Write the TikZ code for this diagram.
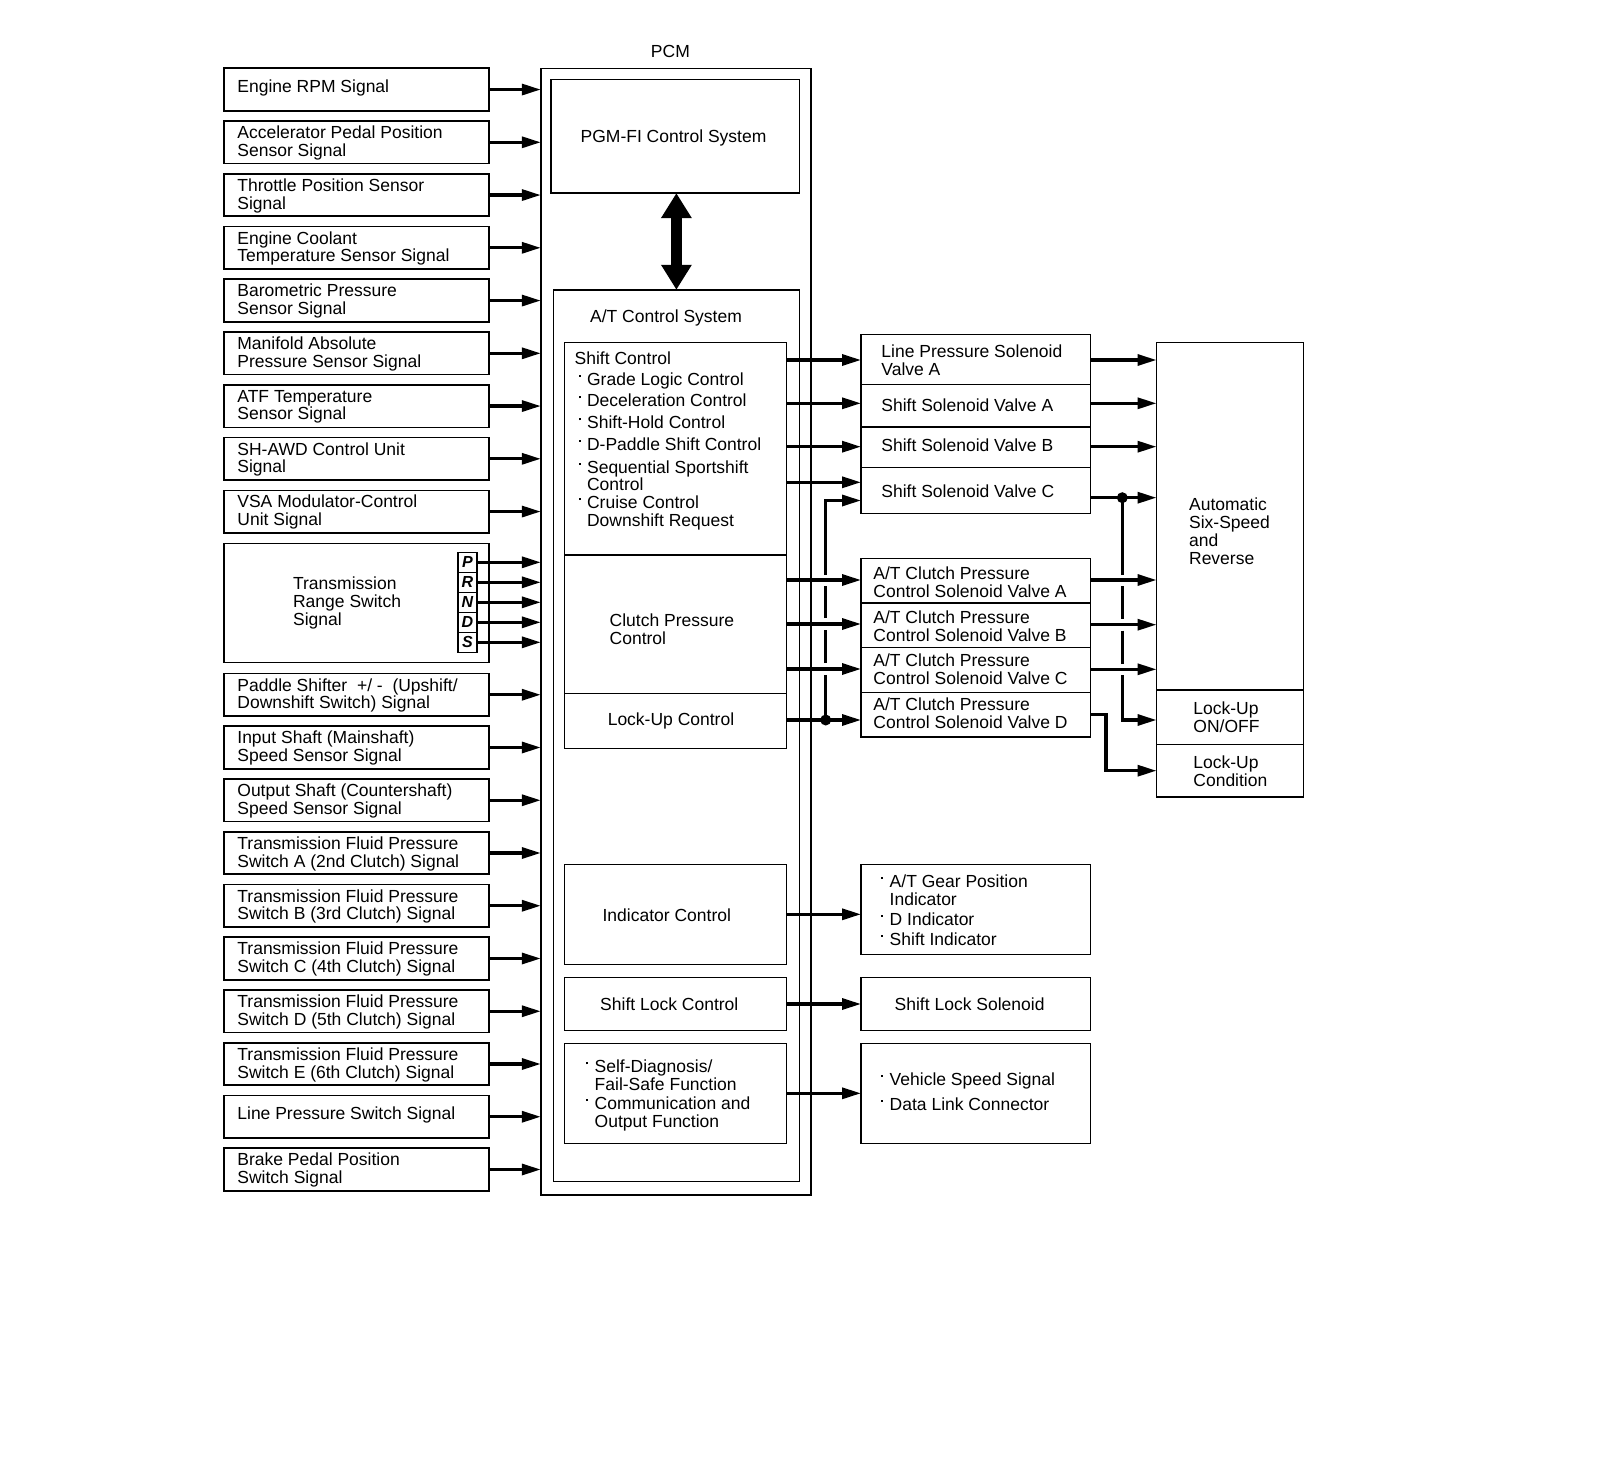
\documentclass[tikz,border=0pt]{standalone}
\usepackage{fontspec}
\setmainfont{Liberation Sans}
\usetikzlibrary{arrows.meta,calc}
\newcommand{\bu}{\llap{\raisebox{4.3pt}{\rule{1pt}{1pt}}\hspace{3.2pt}}}
\newcommand{\bx}[5]{\node[box,minimum width={(#4-#2)*0.5pt},minimum height={(#5-#3)*0.5pt}] (#1) at (#2,#3) {};}
\begin{document}
\begin{tikzpicture}[x=0.5pt,y=-0.5pt,
  box/.style={draw,line width=0.8pt,inner sep=0pt,outer sep=0pt,anchor=north west},
  txt/.style={anchor=west,align=left,inner sep=0pt,yshift=-0.8pt,font=\fontsize{8.75}{8.9}\selectfont},
  ctxt/.style={anchor=center,align=center,inner sep=0pt,yshift=-0.8pt,font=\fontsize{8.75}{8.9}\selectfont},
  arr/.style={line width=1.6pt,-{Triangle[length=9.5pt,width=5.5pt]}},
  ln/.style={line width=1.6pt},
  dot/.style={circle,fill,inner sep=0pt,minimum size=5.5pt},
  letter/.style={box,minimum width=9.65pt,minimum height=10pt,font=\fontsize{8}{8}\selectfont\bfseries\itshape}]
\fill[white] (0,0) rectangle (1600,1471);
\useasboundingbox (0,0) rectangle (1600,1471);

% PCM
\node[ctxt] (pcml) at (670.4,50) {PCM};
\bx{pcm}{540.8}{68.4}{811.2}{1195}
\bx{pgm}{551}{79.4}{799.5}{193.1}
\node[ctxt] (pgmt) at (673.5,136.5) {PGM-FI Control System};
\bx{at}{553.3}{289.8}{799.5}{1181.6}
\node[ctxt] (att) at (666,316) {A/T Control System};
\draw[line width=5.5pt,{Triangle[length=12.5pt,width=14.5pt]}-{Triangle[length=12.5pt,width=14.5pt]}] (at.north |- pgm.south) -- (at.north);

% inner boxes
\bx{shc}{564.3}{342.3}{786.5}{555}
\bx{cpc}{564.3}{555}{786.5}{693.5}
\bx{luc}{564.3}{693.5}{786.5}{748.3}
\bx{inc}{564.3}{864.3}{786.5}{964.3}
\bx{slc}{564.3}{977.3}{786.5}{1030.3}
\bx{sdg}{564.3}{1043.3}{786.5}{1143.3}

\node[txt] (shct) at (574.3,356.7) {Shift Control};
\node[txt] (s1) at (586.7,379) {\bu Grade Logic Control};
\node[txt] (s2) at (586.7,399) {\bu Deceleration Control};
\node[txt] (s3) at (586.7,421) {\bu Shift-Hold Control};
\node[txt] (s4) at (586.7,442.7) {\bu D-Paddle Shift Control};
\node[txt] (s5) at (586.7,474.2) {\bu Sequential Sportshift\\Control};
\node[txt] (s6) at (586.7,511.4) {\bu Cruise Control\\Downshift Request};
\node[txt] (cpct) at (609.3,627.5) {Clutch Pressure\\Control};
\node[ctxt] (luct) at (671,719.3) {Lock-Up Control};
\node[ctxt] (inct) at (666.8,914) {Indicator Control};
\node[ctxt] (slct) at (669.3,1002.3) {Shift Lock Control};
\node[txt] (sd1) at (594.3,1074) {\bu Self-Diagnosis/\\Fail-Safe Function};
\node[txt] (sd2) at (594.3,1112.5) {\bu Communication and\\Output Function};

% left inputs
\foreach \n/\top/\ty/\lab in {
 1/68.3/18/{Engine RPM Signal},
 2/121.05/20.3/{Accelerator Pedal Position\\Sensor Signal},
 3/173.8/20.3/{Throttle Position Sensor\\Signal},
 4/226.55/20.3/{Engine Coolant\\Temperature Sensor Signal},
 5/279.3/20.3/{Barometric Pressure\\Sensor Signal},
 6/332.05/20.3/{Manifold Absolute\\Pressure Sensor Signal},
 7/384.8/20.3/{ATF Temperature\\Sensor Signal},
 8/437.55/20.3/{SH-AWD Control Unit\\Signal},
 9/490.3/20.3/{VSA Modulator-Control\\Unit Signal},
 11/673.5/20.3/{Paddle Shifter\ \ +/ -\ \ (Upshift/\\Downshift Switch) Signal},
 12/726.25/20.3/{Input Shaft (Mainshaft)\\Speed Sensor Signal},
 13/779/20.3/{Output Shaft (Countershaft)\\Speed Sensor Signal},
 14/831.75/20.3/{Transmission Fluid Pressure\\Switch A (2nd Clutch) Signal},
 15/884.5/20.3/{Transmission Fluid Pressure\\Switch B (3rd Clutch) Signal},
 16/937.25/20.3/{Transmission Fluid Pressure\\Switch C (4th Clutch) Signal},
 17/990/20.3/{Transmission Fluid Pressure\\Switch D (5th Clutch) Signal},
 18/1042.75/20.3/{Transmission Fluid Pressure\\Switch E (6th Clutch) Signal},
 19/1095.5/18/{Line Pressure Switch Signal},
 20/1148.25/20.3/{Brake Pedal Position\\Switch Signal}}
{
  \node[box,minimum width=132.35pt,minimum height=21.25pt] (l\n) at (224,\top) {};
  \node[txt] (lt\n) at (237,\top+\ty) {\lab};
  \draw[arr] (l\n.east) -- (l\n.east -| pcm.west);
}

% range switch
\bx{rng}{224}{543.3}{488.7}{662.5}
\node[txt] (rngt) at (292.7,601.2) {Transmission\\Range Switch\\Signal};
\foreach \L [count=\k from 0] in {P,R,N,D,S}{
  \node[letter] (r\L) at (457.7,552.3+20*\k) {\L};
  \draw[arr] (r\L.east) -- (r\L.east -| pcm.west);
}

% solenoids
\bx{lps}{861}{334.3}{1090.5}{384.3}
\bx{ssa}{861}{384.3}{1090.5}{426.7}
\bx{ssb}{861}{426.7}{1090.5}{467.3}
\bx{ssc}{861}{467.3}{1090.5}{513.3}
\bx{cpa}{861}{558.3}{1090.5}{602.7}
\bx{cpb}{861}{602.7}{1090.5}{647.3}
\bx{cpcv}{861}{647.3}{1090.5}{692.3}
\bx{cpd}{861}{692.3}{1090.5}{736.7}
\node[txt] (lpst) at (881,358.8) {Line Pressure Solenoid\\Valve A};
\node[txt] (ssat) at (881,403.3) {Shift Solenoid Valve A};
\node[txt] (ssbt) at (881,444) {Shift Solenoid Valve B};
\node[txt] (ssct) at (881,490) {Shift Solenoid Valve C};
\node[txt] (cpat) at (873,580.5) {A/T Clutch Pressure\\Control Solenoid Valve A};
\node[txt] (cpbt) at (873,624.3) {A/T Clutch Pressure\\Control Solenoid Valve B};
\node[txt] (cpcvt) at (873,668) {A/T Clutch Pressure\\Control Solenoid Valve C};
\node[txt] (cpdt) at (873,711.7) {A/T Clutch Pressure\\Control Solenoid Valve D};

% transmission
\bx{ats}{1156.5}{342.3}{1303.4}{690}
\bx{luo}{1156.5}{690}{1303.4}{744.3}
\bx{lucd}{1156.5}{744.3}{1303.4}{797}
\node[txt] (atst) at (1188.7,529.6) {Automatic\\Six-Speed\\and\\Reverse};
\node[txt] (luot) at (1193,715.8) {Lock-Up\\ON/OFF};
\node[txt] (lucdt) at (1193,769.8) {Lock-Up\\Condition};

% bottom outputs
\bx{ind}{861}{864.3}{1090.5}{954.3}
\bx{sls}{861}{977.3}{1090.5}{1030.3}
\bx{vss}{861}{1043.3}{1090.5}{1143.3}
\node[txt] (ind1) at (889.3,888.3) {\bu A/T Gear Position\\Indicator};
\node[txt] (ind2) at (889.3,917.3) {\bu D Indicator};
\node[txt] (ind3) at (889.3,937.7) {\bu Shift Indicator};
\node[ctxt] (slst) at (969.6,1002.7) {Shift Lock Solenoid};
\node[txt] (vss1) at (889.3,1079.3) {\bu Vehicle Speed Signal};
\node[txt] (vss2) at (889.3,1102.7) {\bu Data Link Connector};

% PCM -> solenoids
\draw[arr] (shc.east |- 0,360) -- (lps.west |- 0,360);
\draw[arr] (shc.east |- 0,403.3) -- (ssa.west |- 0,403.3);
\draw[arr] (shc.east |- 0,446.7) -- (ssb.west |- 0,446.7);
\draw[arr] (shc.east |- 0,482.3) -- (ssc.west |- 0,482.3);
\draw[arr] (cpc.east |- 0,580) -- (cpa.west |- 0,580);
\draw[arr] (cpc.east |- 0,624) -- (cpb.west |- 0,624);
\draw[arr] (cpc.east |- 0,669) -- (cpcv.west |- 0,669);
\draw[arr] (luc.east |- 0,720) -- (cpd.west |- 0,720);
\node[dot] (d1) at (825.7,720) {};
\draw[ln] (d1.center) -- (825.7,675);
\draw[ln] (825.7,663) -- (825.7,630);
\draw[ln] (825.7,618) -- (825.7,586);
\draw[arr] (825.7,575) -- (825.7,500.5) -- (ssc.west |- 0,500.5);

% solenoids -> transmission
\draw[arr] (lps.east |- 0,360) -- (ats.west |- 0,360);
\draw[arr] (ssa.east |- 0,403.3) -- (ats.west |- 0,403.3);
\draw[arr] (ssb.east |- 0,446.7) -- (ats.west |- 0,446.7);
\draw[arr] (ssc.east |- 0,497.7) -- (ats.west |- 0,497.7);
\node[dot] (d2) at (1122.3,497.7) {};
\draw[arr] (cpa.east |- 0,580) -- (ats.west |- 0,580);
\draw[arr] (cpb.east |- 0,624.7) -- (ats.west |- 0,624.7);
\draw[arr] (cpcv.east |- 0,669.3) -- (ats.west |- 0,669.3);
\draw[ln] (d2.center) -- (1122.3,574.5);
\draw[ln] (1122.3,586) -- (1122.3,618.5);
\draw[ln] (1122.3,630.5) -- (1122.3,663.5);
\draw[arr] (1122.3,675) -- (1122.3,720) -- (luo.west |- 0,720);
\draw[arr] (cpd.east |- 0,714.3) -- (1106,714.3) -- (1106,770.7) -- (lucd.west |- 0,770.7);

% bottom arrows
\draw[arr] (inc.east |- 0,914.3) -- (ind.west |- 0,914.3);
\draw[arr] (slc.east |- 0,1004) -- (sls.west |- 0,1004);
\draw[arr] (sdg.east |- 0,1093.3) -- (vss.west |- 0,1093.3);
\end{tikzpicture}
\end{document}
